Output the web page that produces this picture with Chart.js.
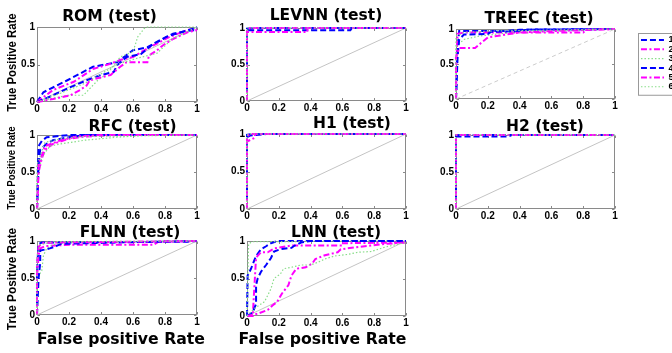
<!DOCTYPE html>
<html><head><meta charset="utf-8">
<script src="https://cdn.jsdelivr.net/npm/chart.js@4.4.1/dist/chart.umd.min.js"></script>
<style>
html,body{margin:0;padding:0;background:#fff;overflow:hidden;width:672px;height:353px;position:relative;}
canvas{position:absolute;}
</style></head><body>
<script>
// ---------- data ----------
const seriesNames = ['1','2','3','4','5','6'];
const xTickValues = [0,0.2,0.4,0.6,0.8,1];
const xTickLabels = ['0','0.2','0.4','0.6','0.8','1'];
const yTickValues = [0,0.5,1];
const yTickLabels = ['0','0.5','1'];
const diagonal = [[0,0],[1,1]];
const panelTitles = ['ROM (test)','LEVNN (test)','TREEC (test)','RFC (test)','H1 (test)','H2 (test)','FLNN (test)','LNN (test)'];
const yAxisTitle = 'True Positive Rate';
const xAxisTitle = 'False positive Rate';

const ROM = [
  [[0,0],[0.04,0.13],[0.19,0.29],[0.35,0.47],[0.5,0.53],[0.6,0.69],[0.69,0.73],[0.77,0.82],[0.85,0.91],[0.94,0.95],[1,0.96]],
  [[0,0],[0.1,0.16],[0.23,0.27],[0.35,0.44],[0.46,0.51],[0.52,0.56],[0.6,0.6],[0.67,0.69],[0.75,0.78],[0.83,0.87],[0.94,0.96],[1,0.98]],
  [[0,0],[0.19,0.09],[0.29,0.09],[0.38,0.29],[0.44,0.38],[0.52,0.6],[0.6,0.67],[0.63,0.87],[0.67,0.98],[0.69,1],[1,1]],
  [[0,0],[0.08,0.07],[0.19,0.18],[0.31,0.29],[0.4,0.36],[0.48,0.4],[0.5,0.49],[0.56,0.6],[0.65,0.64],[0.73,0.78],[0.81,0.87],[0.9,0.93],[0.98,0.98],[1,1]],
  [[0,0],[0.1,0.04],[0.21,0.09],[0.27,0.16],[0.31,0.22],[0.33,0.29],[0.46,0.36],[0.52,0.47],[0.56,0.53],[0.69,0.53],[0.7,0.62],[0.75,0.69],[0.79,0.76],[0.85,0.84],[0.94,0.93],[1,0.96]],
  [[0,0],[0.15,0.12],[0.3,0.25],[0.5,0.5],[0.62,0.58],[0.75,0.65],[0.85,0.85],[1,1]]
];
const LEVNN = [
  [[0,0],[0,0.97],[0.65,0.97],[0.66,1],[1,1]],
  [[0,0],[0,0.945],[0.38,0.945],[0.38,1],[1,1]],
  [[0,0],[0,1],[1,1]],
  [[0,0],[0,0.99],[0.05,1],[1,1]],
  [[0,0],[0,0.98],[0.02,1],[1,1]],
  [[0,0],[0,1],[1,1]]
];
const TREEC = [
  [[0,0],[0.005,0.5],[0.01,0.72],[0.02,0.97],[0.3,0.97],[0.4,0.99],[1,1]],
  [[0,0],[0.005,0.7],[0.01,0.93],[0.05,0.95],[0.8,0.95],[0.82,0.99],[1,1]],
  [[0,0],[0,0.75],[0.05,0.85],[0.15,0.9],[0.35,0.95],[0.6,0.97],[1,1]],
  [[0,0],[0.01,0.6],[0.02,0.85],[0.05,0.92],[0.2,0.93],[0.22,0.96],[0.4,0.97],[0.45,0.99],[1,1]],
  [[0,0],[0,0.6],[0.02,0.73],[0.12,0.73],[0.2,0.88],[0.4,0.95],[0.6,0.97],[1,1]],
  [[0,0],[0,0.9],[0.05,0.95],[0.2,0.97],[1,1]]
];
const RFC = [
  [[0,0],[0.01,0.85],[0.03,0.92],[0.06,0.97],[0.2,1],[1,1]],
  [[0,0],[0.01,0.5],[0.03,0.68],[0.05,0.8],[0.1,0.88],[0.2,0.95],[0.3,0.98],[0.5,1],[1,1]],
  [[0,0],[0,0.4],[0.03,0.7],[0.08,0.85],[0.15,0.88],[0.3,0.93],[0.5,0.97],[0.7,1],[1,1]],
  [[0,0],[0.01,0.6],[0.02,0.8],[0.06,0.88],[0.1,0.93],[0.2,0.97],[0.3,1],[1,1]],
  [[0,0],[0.01,0.6],[0.05,0.85],[0.15,0.93],[0.25,0.98],[0.4,1],[1,1]],
  [[0,0],[0,0.6],[0.05,0.9],[0.15,0.95],[0.3,0.98],[1,1]]
];
const H1 = [
  [[0,0],[0,0.96],[0.02,0.98],[0.12,1],[1,1]],
  [[0,0],[0,0.9],[0.05,0.95],[0.05,1],[1,1]],
  [[0,0],[0,1],[1,1]],
  [[0,0],[0,0.99],[0.03,1],[1,1]],
  [[0,0],[0,0.97],[0.02,1],[1,1]],
  [[0,0],[0,0.98],[0.01,1],[1,1]]
];
const H2 = [
  [[0,0],[0,0.98],[0.33,0.98],[0.35,1],[1,1]],
  [[0,0],[0,0.99],[0.01,1],[1,1]],
  [[0,0],[0,1],[1,1]],
  [[0,0],[0,0.99],[0.02,1],[1,1]],
  [[0,0],[0,1],[1,1]],
  [[0,0],[0,1],[1,1]]
];
const FLNN = [
  [[0,0],[0,0.6],[0.01,0.96],[0.03,0.98],[0.94,0.99],[1,1]],
  [[0,0],[0,0.5],[0.01,0.8],[0.02,0.9],[0.05,0.93],[0.2,0.95],[0.73,0.95],[0.76,0.99],[1,1]],
  [[0,0],[0,0.5],[0.03,0.6],[0.04,0.8],[0.06,0.9],[0.1,0.95],[0.2,0.98],[1,1]],
  [[0,0],[0.01,0.5],[0.02,0.7],[0.02,0.87],[0.08,0.9],[0.12,0.93],[0.15,0.96],[0.3,0.97],[0.5,0.98],[1,1]],
  [[0,0],[0,0.7],[0.01,0.92],[0.03,0.97],[0.1,0.98],[1,1]],
  [[0,0],[0,0.8],[0.02,0.95],[0.1,0.99],[1,1]]
];
const LNN = [
  [[0,0],[0.004,0.54],[0.025,0.63],[0.057,0.8],[0.088,0.89],[0.12,0.93],[0.15,0.97],[0.19,1],[1,1]],
  [[0,0],[0.036,0],[0.057,0.78],[0.088,0.85],[0.13,0.85],[0.17,0.9],[0.28,0.94],[0.59,0.94],[0.59,0.97],[1,0.98]],
  [[0,0],[0.01,0.96],[0.03,0.99],[1,1]],
  [[0,0],[0.036,0.05],[0.057,0.16],[0.057,0.41],[0.067,0.5],[0.088,0.59],[0.12,0.68],[0.15,0.77],[0.17,0.86],[0.21,0.89],[0.28,0.91],[0.3,0.94],[0.34,0.98],[0.4,1],[1,1]],
  [[0,0],[0.067,0.03],[0.13,0.08],[0.16,0.14],[0.19,0.19],[0.22,0.3],[0.26,0.41],[0.28,0.54],[0.31,0.63],[0.37,0.65],[0.41,0.7],[0.43,0.76],[0.49,0.81],[0.57,0.85],[0.59,0.89],[0.7,0.92],[0.86,0.96],[1,0.98]],
  [[0,0],[0.046,0.1],[0.11,0.19],[0.15,0.36],[0.17,0.5],[0.21,0.56],[0.23,0.63],[0.28,0.65],[0.34,0.68],[0.4,0.68],[0.45,0.72],[0.49,0.76],[0.55,0.8],[0.59,0.81],[0.63,0.82],[0.7,0.85],[0.78,0.86],[0.87,0.92],[1,0.98]]
];

// ---------- styles & layout ----------
const BLUE='#0000ff', MAG='#ff00ff', GREEN='#88dd88';
const seriesStyle = [
  {c:BLUE, d:[6,3], w:2},
  {c:MAG, d:[6,2.5,2,2.5], w:2},
  {c:GREEN, d:[1.5,2], w:1.2},
  {c:BLUE, d:[6,3], w:2},
  {c:MAG, d:[6,2.5,2,2.5], w:2},
  {c:GREEN, d:[1.5,2], w:1.2}
];
const panels = [
  {data:ROM,   cv:[0,0,222,122],    plot:[37,27,197,102],  tx:109.5, ty:20.5, ylab:[12,62.5,11.3]},
  {data:LEVNN, cv:[222,0,210,122],  plot:[247,28,406,101], tx:326,   ty:20},
  {data:TREEC, cv:[432,0,204,122],  plot:[456,29,615,99],  tx:539,   ty:22.5, diagDash:true},
  {data:RFC,   cv:[0,111,222,122],  plot:[37,135,197,209], tx:132.5, ty:131, ylab:[12,168,9.6]},
  {data:H1,    cv:[222,111,210,122],plot:[247,134,406,209],tx:352,   ty:128},
  {data:H2,    cv:[432,111,204,122],plot:[456,135,615,209],tx:545,   ty:131},
  {data:FLNN,  cv:[0,222,222,131],  plot:[37,241,197,315], tx:130,   ty:237, ylab:[12,279,11.8], xlab:[121,344]},
  {data:LNN,   cv:[222,222,210,131],plot:[247,241,406,316],tx:336,   ty:237, xlab:[322.5,344]}
];

const toXY = arr => arr.map(p => ({x:p[0], y:p[1]}));

const decor = {
  id:'decor',
  beforeDatasetsDraw(chart, args, o){
    if (!o.box) return;
    const ctx = chart.ctx, a = chart.chartArea;
    const l = Math.round(a.left)+0.5, t = Math.round(a.top)+0.5;
    const r = Math.round(a.right)-0.5, b = Math.round(a.bottom)-0.5;
    ctx.save();
    ctx.strokeStyle = '#8a8a8a'; ctx.lineWidth = 1;
    ctx.strokeRect(l, t, r-l, b-t);
    // small inward tick marks on all four sides
    ctx.beginPath();
    const xs = chart.scales.x, ys = chart.scales.y;
    xs.ticks.forEach(tk => {
      const px = Math.round(xs.getPixelForValue(tk.value)) + 0.5;
      ctx.moveTo(px, b); ctx.lineTo(px, b-2.5);
      ctx.moveTo(px, t); ctx.lineTo(px, t+2.5);
    });
    ys.ticks.forEach(tk => {
      const py = Math.round(ys.getPixelForValue(tk.value)) + 0.5;
      ctx.moveTo(l, py); ctx.lineTo(l+2.5, py);
      ctx.moveTo(r, py); ctx.lineTo(r-2.5, py);
    });
    ctx.stroke();
    ctx.restore();
  },
  afterDraw(chart, args, o){
    const ctx = chart.ctx;
    ctx.save();
    ctx.fillStyle = '#000';
    if (o.title){
      ctx.font = 'bold 15.5px "DejaVu Sans"';
      ctx.textAlign='center'; ctx.textBaseline='alphabetic';
      ctx.fillText(o.title, o.tx, o.ty);
    }
    if (o.ylabel){
      ctx.save();
      ctx.translate(o.yx, o.yy); ctx.rotate(-Math.PI/2); ctx.scale(1, 1.15);
      ctx.font = 'bold '+o.ys+'px "Liberation Sans"';
      ctx.textAlign='center'; ctx.textBaseline='middle';
      ctx.fillText(o.ylabel, 0, 0);
      ctx.restore();
    }
    if (o.xlabel){
      ctx.font = 'bold 15.7px "DejaVu Sans"';
      ctx.textAlign='center'; ctx.textBaseline='alphabetic';
      ctx.fillText(o.xlabel, o.xx, o.xy);
    }
    if (o.legendBox && chart.legend && chart.legend.legendHitBoxes.length){
      const hb = chart.legend.legendHitBoxes;
      const first = hb[0], last = hb[hb.length-1];
      ctx.strokeStyle = '#999'; ctx.lineWidth = 1;
      ctx.strokeRect(2.5, 3.5, 200, last.top + last.height - first.top + 6);
    }
    ctx.restore();
  }
};

const tickFont = {family:'Liberation Sans', weight:'bold', size:10};

panels.forEach((p, idx) => {
  const [cx, cy, cw, ch] = p.cv;
  const [L, T, R, B] = p.plot;
  const cvs = document.createElement('canvas');
  cvs.width = cw; cvs.height = ch;
  cvs.style.left = cx+'px'; cvs.style.top = cy+'px';
  cvs.style.width = cw+'px'; cvs.style.height = ch+'px';
  document.body.appendChild(cvs);

  const datasets = p.data.map((s, i) => ({
    label: seriesNames[i],
    data: toXY(s),
    borderColor: seriesStyle[i].c,
    borderDash: seriesStyle[i].d,
    borderWidth: seriesStyle[i].w,
    pointRadius: 0, tension: 0, fill: false,
    clip: 4,
    order: 6 - i
  }));
  datasets.push({
    label: 'diag', data: toXY(diagonal),
    borderColor: p.diagDash ? '#cccccc' : '#c4c4c4',
    borderDash: p.diagDash ? [4,3] : [],
    borderWidth: 1, pointRadius: 0, fill:false, order: 10
  });

  const o = {box:true, title: panelTitles[idx], tx: p.tx - cx, ty: p.ty - cy};
  if (p.ylab){ o.ylabel = yAxisTitle; o.yx = p.ylab[0]-cx; o.yy = p.ylab[1]-cy; o.ys = p.ylab[2]; }
  if (p.xlab){ o.xlabel = xAxisTitle; o.xx = p.xlab[0]-cx; o.xy = p.xlab[1]-cy; }

  const yW = L - cx, xH = cy + ch - B;
  new Chart(cvs, {
    type:'line',
    data:{datasets},
    plugins:[decor],
    options:{
      responsive:false, animation:false, devicePixelRatio:1,
      events:[],
      layout:{padding:{left:0, top:T-cy, right:cx+cw-R, bottom:0}},
      plugins:{legend:{display:false}, tooltip:{enabled:false}, decor:o},
      scales:{
        x:{type:'linear', min:0, max:1,
           afterFit(s){ s.height = xH; },
           afterBuildTicks(s){ s.ticks = xTickValues.map(v=>({value:v})); },
           grid:{display:false, drawTicks:false}, border:{display:false},
           ticks:{padding:1, autoSkip:false, maxRotation:0, color:'#000', font:tickFont,
                  callback:(v)=> xTickLabels[xTickValues.indexOf(v)]}},
        y:{type:'linear', min:0, max:1,
           afterFit(s){ s.width = yW; },
           afterBuildTicks(s){ s.ticks = yTickValues.map(v=>({value:v})); },
           grid:{display:false, drawTicks:false}, border:{display:false},
           ticks:{padding:2, autoSkip:false, color:'#000', font:tickFont,
                  callback:(v)=> yTickLabels[yTickValues.indexOf(v)]}}
      }
    }
  });
});

// ---------- legend ----------
(function(){
  const cvs = document.createElement('canvas');
  const cx = 636, cy = 30, cw = 130, ch = 72;
  cvs.width = cw; cvs.height = ch;
  cvs.style.left = cx+'px'; cvs.style.top = cy+'px';
  cvs.style.width = cw+'px'; cvs.style.height = ch+'px';
  document.body.appendChild(cvs);
  const datasets = seriesNames.map((n,i)=>({
    label:n, data:[], borderColor:seriesStyle[i].c, borderDash:seriesStyle[i].d, borderWidth:seriesStyle[i].w
  }));
  new Chart(cvs, {
    type:'line',
    data:{datasets},
    plugins:[decor],
    options:{
      responsive:false, animation:false, devicePixelRatio:1, events:[],
      layout:{padding:{left:4.6, top:5.15, right:0, bottom:0}},
      scales:{x:{display:false}, y:{display:false}},
      plugins:{
        tooltip:{enabled:false},
        decor:{legendBox:true},
        legend:{
          display:true, position:'left', align:'start',
          labels:{
            usePointStyle:true, pointStyle:'line', pointStyleWidth:23, boxHeight:9,
            padding:0.35, color:'#000',
            font:{family:'Liberation Sans', weight:'bold', size:9},
            generateLabels:(chart)=>chart.data.datasets.map((ds,i)=>({
              text:ds.label, fillStyle:'rgba(0,0,0,0)', strokeStyle:ds.borderColor,
              lineDash:ds.borderDash, lineWidth:ds.borderWidth, pointStyle:'line',
              hidden:false, datasetIndex:i, fontColor:'#000'
            }))
          }
        }
      }
    }
  });
})();
</script>
</body></html>
